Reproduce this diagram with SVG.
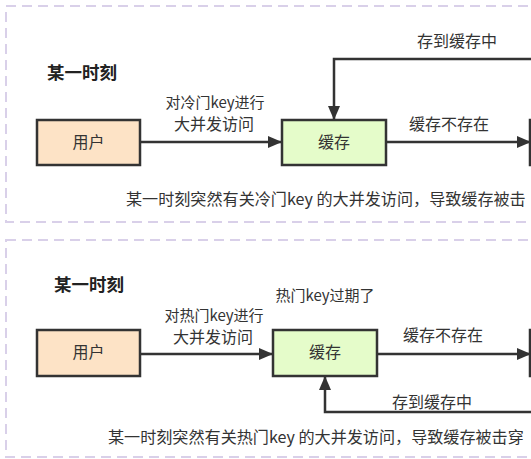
<svg xmlns="http://www.w3.org/2000/svg" width="531" height="459" viewBox="0 0 531 459">
<style>
.panel{fill:#fff;stroke:#d9d0e9;stroke-width:2;stroke-dasharray:10 6}
.box{stroke:#333;stroke-width:2.5}
.user{fill:#fde3c6}
.cache{fill:#e5fcca}
.end{fill:#fff}
text{font-family:"Noto Sans CJK SC","Noto Sans",sans-serif;fill:#333}
.t{font-size:17.5px;font-weight:bold;fill:#222}
.l{font-size:15px;text-anchor:middle}
.m{font-size:16px;text-anchor:middle}
.n{font-size:16px;text-anchor:middle}
.c{font-size:16.1px}
.edge{fill:none;stroke:#333;stroke-width:2.5}
</style>
<defs>
<marker id="ah" markerUnits="userSpaceOnUse" markerWidth="14" markerHeight="12" refX="13" refY="6" orient="auto">
<path d="M0,0 L14,6 L0,12 Z" fill="#333"/>
</marker>
</defs>
<rect class="panel" x="6" y="6" width="560" height="216"/>
<rect class="panel" x="6" y="240" width="560" height="217"/>
<g id="labels">
<text class="t" x="47" y="79">某一时刻</text>
<text class="c" x="126" y="205">某一时刻突然有关冷门key 的大并发访问，导致缓存被击</text>
<text class="t" x="54" y="291">某一时刻</text>
<text class="l" x="325" y="301">热门key过期了</text>
<text class="c" x="108" y="443">某一时刻突然有关热门key 的大并发访问，导致缓存被击穿</text>
</g>
<g id="connectors">
<path class="edge" d="M140,142 H281" marker-end="url(#ah)"/>
<path class="edge" d="M386,142 H530" marker-end="url(#ah)"/>
<path class="edge" d="M531,59 H334 V119" marker-end="url(#ah)"/>
<text class="l" x="215" y="108">对冷门key进行</text>
<text class="m" x="214" y="130">大并发访问</text>
<text class="m" x="449" y="130">缓存不存在</text>
<text class="m" x="457" y="47">存到缓存中</text>
<path class="edge" d="M140,354 H272" marker-end="url(#ah)"/>
<path class="edge" d="M377,354 H530" marker-end="url(#ah)"/>
<path class="edge" d="M531,412 H325 V377" marker-end="url(#ah)"/>
<text class="l" x="214" y="321">对热门key进行</text>
<text class="m" x="213" y="343">大并发访问</text>
<text class="m" x="443" y="341">缓存不存在</text>
<text class="m" x="432" y="408">存到缓存中</text>
</g>
<g id="user1"><rect class="box user" x="37" y="120" width="103" height="45"/><text class="n" x="88.5" y="148">用户</text></g>
<g id="cache1"><rect class="box cache" x="282" y="120" width="104" height="45"/><text class="n" x="334" y="148">缓存</text></g>
<g id="db1"><rect class="box end" x="530" y="120" width="104" height="45"/></g>
<g id="user2"><rect class="box user" x="37" y="330" width="103" height="46"/><text class="n" x="88.5" y="358">用户</text></g>
<g id="cache2"><rect class="box cache" x="273" y="330" width="104" height="46"/><text class="n" x="325" y="358">缓存</text></g>
<g id="db2"><rect class="box end" x="530" y="330" width="104" height="46"/></g>
</svg>
